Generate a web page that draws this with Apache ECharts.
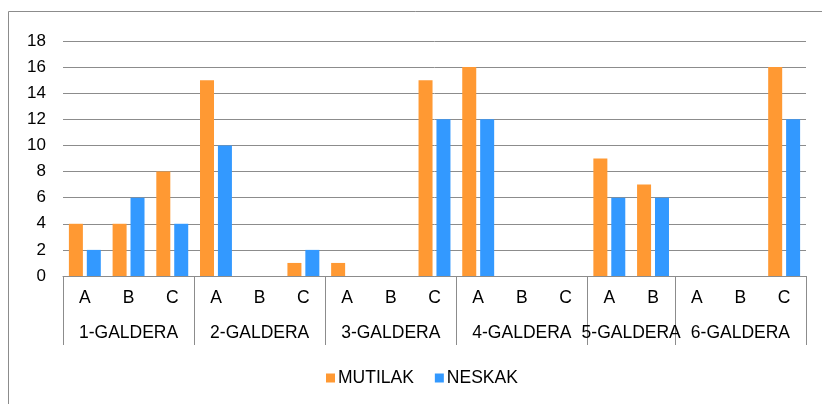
<!DOCTYPE html>
<html><head><meta charset="utf-8">
<script src="https://cdn.jsdelivr.net/npm/echarts@6/dist/echarts.min.js"></script>
<style>html,body{margin:0;padding:0;background:#fff}#c{width:822px;height:404px}</style>
</head><body><div id="c"></div>
<script>
var groups = ['1-GALDERA','2-GALDERA','3-GALDERA','4-GALDERA','5-GALDERA','6-GALDERA'];
var groupSubs = [['A','B','C'],['A','B','C'],['A','B','C'],['A','B','C'],['A','B'],['A','B','C']];
var mutilak = [4,4,8, 15,0,1, 1,0,15, 16,0,0, 9,7, 0,0,16];
var neskak  = [2,6,4, 10,0,2, 0,0,12, 12,0,0, 6,6, 0,0,12];
var yTicks = [0,2,4,6,8,10,12,14,16,18];

var categories = [];
var groupStart = {};
var groupCenter = {};
groups.forEach(function(g, gi){
  groupStart[categories.length] = true;
  groupCenter[categories.length + groupSubs[gi].length/2] = g;
  groupSubs[gi].forEach(function(s){ categories.push(s); });
});
var N = categories.length;
var font = 'Liberation Sans, Arial, sans-serif';
var fs = 17.5;
var chart = echarts.init(document.getElementById('c'));
chart.setOption({
  animation:false,
  graphic:[{type:'rect',shape:{x:8.5,y:11.5,width:840,height:430},style:{fill:'none',stroke:'#8c8c8c',lineWidth:1}}],
  legend:{left:326,top:369,padding:0,itemWidth:9,itemHeight:9,itemGap:21,icon:'rect',
    textStyle:{fontFamily:font,fontSize:fs,color:'#000',padding:[0,0,0,-2]},
    data:['MUTILAK','NESKAK']},
  grid:{left:63,right:16,top:41,bottom:128,containLabel:false},
  xAxis:[{
    type:'category',data:categories,position:'bottom',
    axisLine:{lineStyle:{color:'#8c8c8c',width:1}},
    axisTick:{show:true,length:69,lineStyle:{color:'#8c8c8c'},
      interval:function(i){return !!groupStart[i];}},
    axisLabel:{interval:0,margin:13,fontFamily:font,fontSize:fs,color:'#000'},
    splitLine:{show:false}
  },{
    type:'value',min:0,max:N,interval:0.5,position:'bottom',
    axisLine:{show:false},axisTick:{show:false},splitLine:{show:false},
    axisLabel:{margin:48,fontFamily:font,fontSize:fs,color:'#000',showMinLabel:true,showMaxLabel:true,
      formatter:function(v){return groupCenter[v]||'';}}
  }],
  yAxis:{type:'value',min:0,max:18,interval:2,
    axisLine:{show:false},axisTick:{show:false},
    splitLine:{lineStyle:{color:'#8c8c8c',width:1}},
    axisLabel:{margin:17,fontFamily:font,fontSize:17,color:'#000',
      formatter:function(v){return yTicks.indexOf(v)>=0?String(v):'';}}},
  series:[
    {name:'MUTILAK',type:'bar',data:mutilak,barWidth:14,barGap:'28%',itemStyle:{color:'#FF9933'}},
    {name:'NESKAK',type:'bar',data:neskak,barWidth:14,barGap:'28%',itemStyle:{color:'#3399FF'}}
  ]
});
</script></body></html>
